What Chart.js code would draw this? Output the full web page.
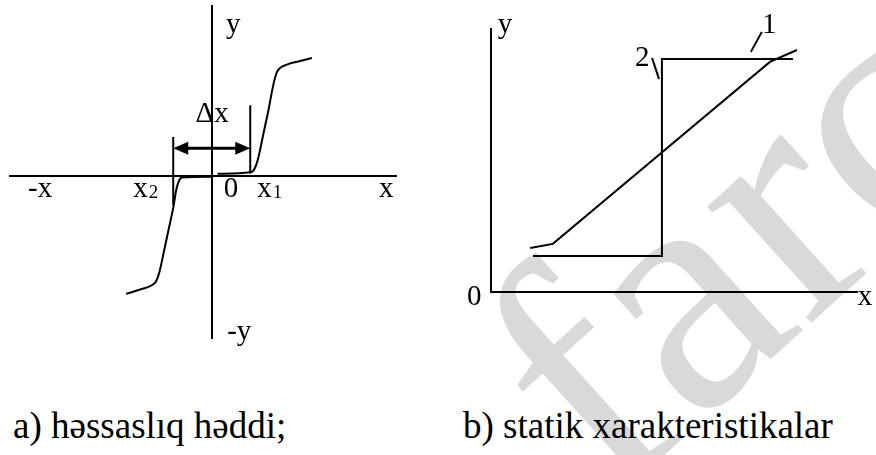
<!DOCTYPE html>
<html>
<head>
<meta charset="utf-8">
<script src="https://cdn.jsdelivr.net/npm/chart.js@4.4.1/dist/chart.umd.min.js"></script>
<style>
  html, body { margin: 0; padding: 0; background: #fff; width: 876px; height: 455px; overflow: hidden; }
  #stage { position: relative; width: 876px; height: 455px; }
  #back { position: absolute; left: 0; top: 0; }
  canvas { position: absolute; top: 0; }
  #chartA { left: 0; }
  #chartB { left: 440px; }
</style>
</head>
<body>
<div id="stage">
  <svg id="back" width="876" height="455" xmlns="http://www.w3.org/2000/svg">
    <text x="610" y="504" transform="rotate(-42 610 504)" font-family="Liberation Serif" font-size="340" fill="#d9d9d9">farc</text>
    <text x="13" y="438" font-family="Liberation Serif" font-size="37" fill="#000">a) həssaslıq həddi;</text>
    <text x="463" y="438" font-family="Liberation Serif" font-size="37" fill="#000">b) statik xarakteristikalar</text>
  </svg>
  <canvas id="chartA" width="420" height="360"></canvas>
  <canvas id="chartB" width="436" height="360"></canvas>
</div>
<script>
// ---- Panel a: sensitivity threshold (dead zone around zero) ----
const upperBranchX = [0.29, 2.07, 2.25, 2.39, 2.52, 2.79, 3.06, 3.34, 3.52, 3.70, 4.06, 4.79, 5.42];
const upperBranchY = [0.14, 0.23, 0.35, 0.65, 1.13, 2.51, 3.88, 5.44, 6.12, 6.36, 6.56, 6.77, 6.95];
const lowerBranchX = [-4.68, -3.92, -3.28, -3.05, -2.87, -2.65, -2.38, -2.11, -1.96, -1.83, -1.65, 0];
const lowerBranchY = [-6.91, -6.65, -6.40, -6.17, -5.62, -4.54, -3.17, -1.80, -0.82, -0.33, -0.08, -0.03];
const thresholdX = [-2.12, 2.07];          // x2 and x1
const markX2Y = [2.31, -1.70];
const markX1Y = [4.17, 0.16];
const deltaArrowY = 1.64;

const labelsA = ['-x', 'x', '0', 'x', 'x', 'y', '-y', 'Δx'];
const labelSubsA = ['', '2', '', '1', '', '', '', ''];
const labelXA = [-9.36, -4.30, 1.03, 2.45, 9.47, 1.14, 1.47, 0];
const labelYA = [-1.23, -1.23, -1.23, -1.23, -1.23, 8.40, -9.63, 3.17];
const labelAlignA = ['center', 'left', 'center', 'left', 'center', 'center', 'center', 'center'];

// ---- Panel b: static characteristics (1 - proportional, 2 - relay) ----
const rampX = [1.07, 1.69, 7.62, 8.36];
const rampY = [1.67, 1.83, 8.75, 9.20];
const relayX = [1.15, 4.67, 4.67, 8.25];
const relayY = [1.37, 1.37, 8.86, 8.86];
const leader1X = [7.40, 7.10];
const leader1Y = [9.89, 9.13];
const leader2X = [4.40, 4.59];
const leader2Y = [8.90, 8.10];

const labelsB = ['y', '0', 'x', '2', '1'];
const labelXB = [0.38, -0.46, 10.22, 4.13, 7.60];
const labelYB = [9.85, -0.49, -0.49, 8.59, 9.85];

const FONT = '"Liberation Serif", "Times New Roman", serif';

function pts(xs, ys) { return xs.map((x, i) => ({ x: x, y: ys[i] })); }

function stroke(data, extra) {
  return Object.assign({
    data: data, borderColor: '#000', borderWidth: 2, pointRadius: 0,
    fill: false, tension: 0, clip: false
  }, extra || {});
}

function axisScale(min, max, pos) {
  return {
    type: 'linear', min: min, max: max, position: pos,
    grid: { display: false }, ticks: { display: false },
    border: { display: true, color: '#000', width: 2 }
  };
}

// draws text items placed in data units
function textPlugin(id, texts, subs, xs, ys, aligns) {
  return {
    id: id,
    afterDraw(chart) {
      const ctx = chart.ctx, sx = chart.scales.x, sy = chart.scales.y;
      ctx.save();
      ctx.fillStyle = '#000';
      ctx.textBaseline = 'alphabetic';
      texts.forEach((t, i) => {
        const px = sx.getPixelForValue(xs[i]);
        const py = sy.getPixelForValue(ys[i]);
        ctx.font = '29px ' + FONT;
        ctx.textAlign = aligns ? aligns[i] : 'center';
        ctx.fillText(t, px, py);
        if (subs && subs[i]) {
          const w = ctx.measureText(t).width;
          ctx.font = '19px ' + FONT;
          ctx.textAlign = 'left';
          ctx.fillText(subs[i], px + w + 1, py + 1);
        }
      });
      ctx.restore();
    }
  };
}

// double-headed arrow spanning the dead zone
const deltaArrow = {
  id: 'deltaArrow',
  afterDatasetsDraw(chart) {
    const ctx = chart.ctx, sx = chart.scales.x, sy = chart.scales.y;
    const x0 = sx.getPixelForValue(thresholdX[0]);
    const x1 = sx.getPixelForValue(thresholdX[1]);
    const y = sy.getPixelForValue(deltaArrowY);
    const head = 15, half = 6.5;
    ctx.save();
    ctx.strokeStyle = '#000';
    ctx.fillStyle = '#000';
    ctx.lineWidth = 3;
    ctx.beginPath();
    ctx.moveTo(x0 + head - 1, y);
    ctx.lineTo(x1 - head + 1, y);
    ctx.stroke();
    ctx.beginPath();
    ctx.moveTo(x0, y); ctx.lineTo(x0 + head, y - half); ctx.lineTo(x0 + head, y + half); ctx.closePath();
    ctx.fill();
    ctx.beginPath();
    ctx.moveTo(x1, y); ctx.lineTo(x1 - head, y - half); ctx.lineTo(x1 - head, y + half); ctx.closePath();
    ctx.fill();
    ctx.restore();
  }
};

const commonOpts = {
  responsive: false,
  animation: false,
  plugins: { legend: { display: false }, tooltip: { enabled: false }, title: { display: false } },
  events: []
};

new Chart(document.getElementById('chartA'), {
  type: 'line',
  data: {
    datasets: [
      stroke(pts(upperBranchX, upperBranchY), { cubicInterpolationMode: 'monotone' }),
      stroke(pts(lowerBranchX, lowerBranchY), { cubicInterpolationMode: 'monotone' }),
      stroke(pts([thresholdX[0], thresholdX[0]], markX2Y)),
      stroke(pts([thresholdX[1], thresholdX[1]], markX1Y))
    ]
  },
  options: Object.assign({}, commonOpts, {
    layout: { padding: { left: 10, right: 24, top: 6, bottom: 22 } },
    scales: {
      x: axisScale(-11, 10, { y: 0 }),
      y: axisScale(-9.5, 10, { x: 0 })
    }
  }),
  plugins: [deltaArrow, textPlugin('labelsA', labelsA, labelSubsA, labelXA, labelYA, labelAlignA)]
});

new Chart(document.getElementById('chartB'), {
  type: 'line',
  data: {
    datasets: [
      stroke(pts(rampX, rampY)),
      stroke(pts(relayX, relayY)),
      stroke(pts(leader1X, leader1Y)),
      stroke(pts(leader2X, leader2Y))
    ]
  },
  options: Object.assign({}, commonOpts, {
    layout: { padding: { left: 51, right: 19, top: 29, bottom: 68 } },
    scales: {
      x: axisScale(0, 10, { y: 0 }),
      y: axisScale(0, 10, { x: 0 })
    }
  }),
  plugins: [textPlugin('labelsB', labelsB, null, labelXB, labelYB, null)]
});
</script>
</body>
</html>
